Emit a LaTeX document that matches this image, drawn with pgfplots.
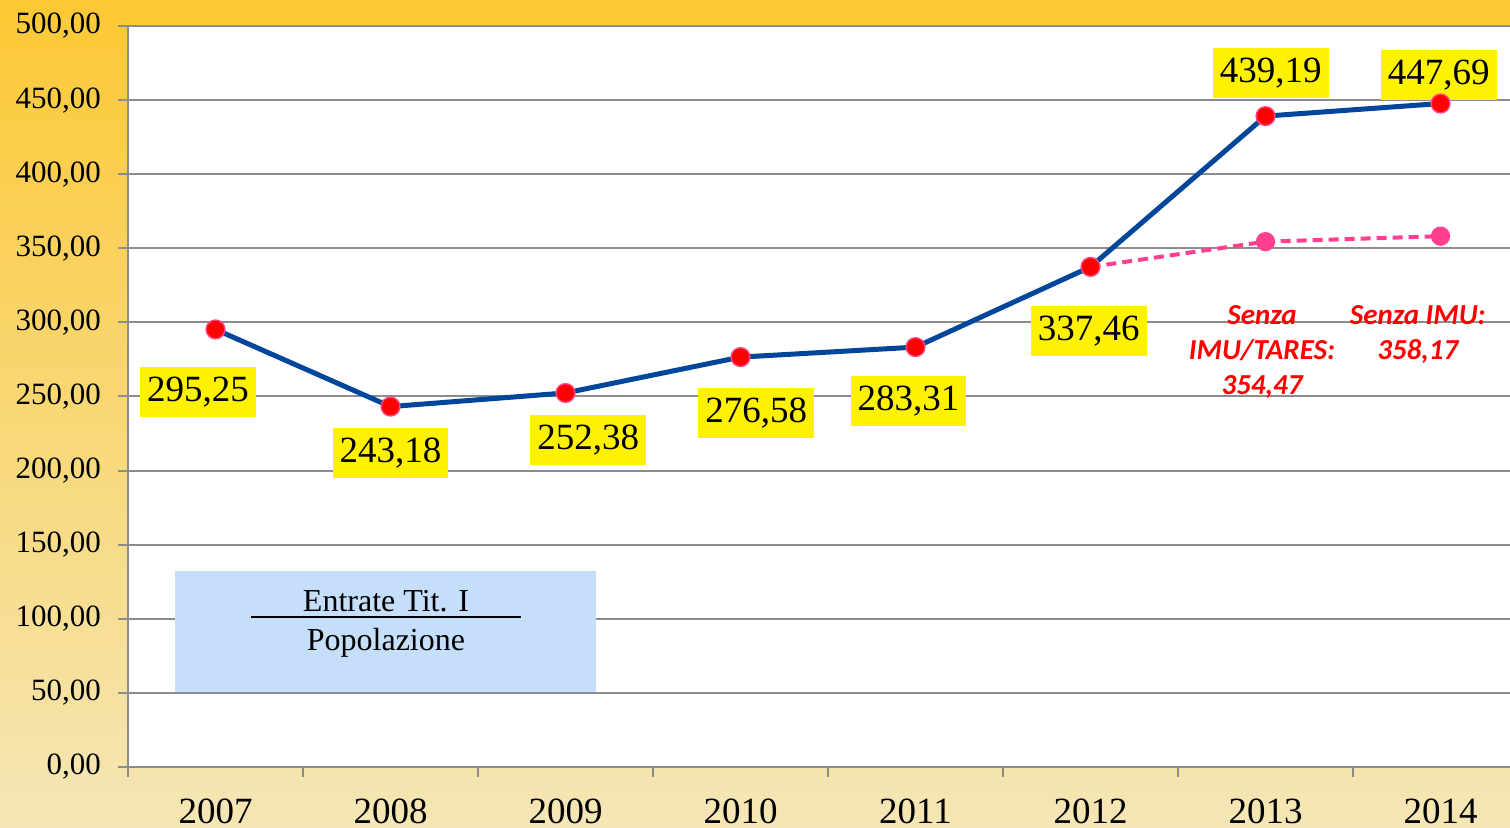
\documentclass[border=0pt]{standalone}
\usepackage{pgfplots}
\pgfplotsset{compat=1.18}
\usepackage{fontspec}
\setmainfont{Liberation Serif}
\newfontfamily\calibri{Carlito}

\definecolor{bgtop}{RGB}{252,200,52}
\definecolor{bgmid}{RGB}{248,220,130}
\definecolor{bgbot}{RGB}{245,230,182}
\definecolor{gridgray}{RGB}{140,140,140}
\definecolor{lineblue}{RGB}{0,70,155}
\definecolor{markpink}{RGB}{255,70,130}
\definecolor{dashpink}{RGB}{255,64,144}
\definecolor{boxblue}{RGB}{197,222,250}

\begin{document}
\begin{tikzpicture}[
  lab/.style={fill=yellow, font=\fontsize{18.5}{20}\selectfont,
    inner xsep=3.5pt, inner ysep=0pt, minimum height=25pt},
  redlab/.style={text=red, align=center,
    font=\calibri\bfseries\itshape\fontsize{14.5}{17.5}\selectfont},
]
\shade[top color=bgtop, middle color=bgmid, bottom color=bgbot] (0,0) rectangle (755pt,414pt);
\begin{axis}[
  at={(64pt,30.5pt)}, anchor=south west,
  scale only axis, width=691pt, height=370.5pt,
  xmin=-0.5, xmax=7.397, ymin=0, ymax=500,
  clip=false,
  axis background/.style={fill=white},
  axis x line*=bottom, axis y line*=left,
  axis line style={draw=gridgray, line width=1pt, -},
  xtick={-0.5,0.5,...,6.5}, xticklabels={},
  extra x ticks={0,1,2,3,4,5,6,7},
  extra x tick labels={2007,2008,2009,2010,2011,2012,2013,2014},
  extra x tick style={major tick length=0pt, grid=none,
    tick label style={font=\fontsize{18.5}{20}\selectfont, yshift=-12.5pt}},
  ytick={0,50,...,500},
  major tick length=5pt,
  tick align=outside,
  tick style={draw=gridgray, line width=1pt},
  ymajorgrids, grid style={draw=gridgray, line width=1pt},
  scaled y ticks=false,
  yticklabel style={font=\fontsize{15.5}{18}\selectfont, xshift=-5pt,
    /pgf/number format/fixed, /pgf/number format/fixed zerofill,
    /pgf/number format/precision=2, /pgf/number format/use comma,
    /pgf/number format/assume math mode=true},
]
% riquadro formula
\fill[boxblue] (axis cs:-0.231,50.6) rectangle (axis cs:2.174,132.3);
\node[font=\fontsize{16}{18}\selectfont] at (axis cs:0.974,112) {Entrate Tit. I};
\draw[line width=1pt] (axis cs:0.203,101) -- (axis cs:1.746,101);
\node[font=\fontsize{16}{18}\selectfont] at (axis cs:0.974,83.5) {Popolazione};

% senza IMU
\addplot[dashpink, line width=2pt, dash pattern=on 5pt off 3pt,
  mark=*, mark size=3.8pt, mark options={solid, fill=dashpink, draw=dashpink}]
  coordinates {(5,337.46)(6,354.47)(7,358.17)};

\addplot[lineblue, line width=2.5pt, mark=*, mark size=4.7pt,
  mark options={fill=red, draw=markpink, line width=0.7pt}]
  coordinates {(0,295.25)(1,243.18)(2,252.38)(3,276.58)(4,283.31)
               (5,337.46)(6,439.19)(7,447.69)};

\node[lab] at (axis cs:-0.1,253) {295,25};
\node[lab] at (axis cs:1.0,212) {243,18};
\node[lab] at (axis cs:2.13,220.7) {252,38};
\node[lab] at (axis cs:3.09,239) {276,58};
\node[lab] at (axis cs:3.96,247) {283,31};
\node[lab] at (axis cs:4.99,294) {337,46};
\node[lab] at (axis cs:6.03,468) {439,19};
\node[lab] at (axis cs:6.99,467) {447,69};

\node[redlab] at (axis cs:5.98,280) {Senza\\IMU/TARES:\\354,47};
\node[redlab] at (axis cs:6.87,292) {Senza IMU:\\358,17};
\end{axis}
\pgfresetboundingbox
\path[use as bounding box] (0,0) rectangle (755pt,414pt);
\end{tikzpicture}
\end{document}
